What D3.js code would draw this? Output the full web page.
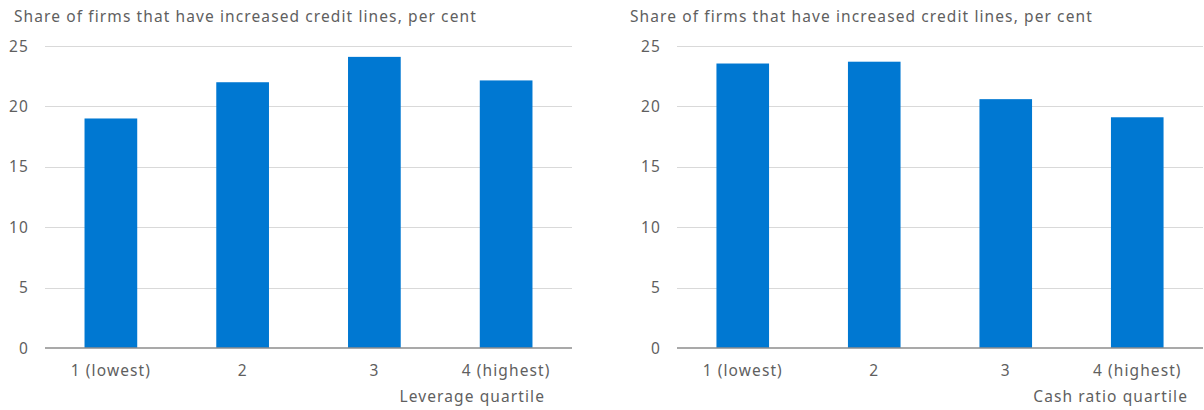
<!DOCTYPE html>
<html><head><meta charset="utf-8">
<script src="https://cdn.jsdelivr.net/npm/d3@7"></script>
<style>
html,body{margin:0;padding:0;background:#fff;}
svg text{font-family:"Noto Sans",sans-serif;fill:#5f5f5f;letter-spacing:1.1px;}
</style></head>
<body>
<svg id="chart" width="1204" height="410"></svg>
<script>
const categories = ["1 (lowest)", "2", "3", "4 (highest)"];
const leverageValues = [19.0, 22.0, 24.1, 22.15];
const cashRatioValues = [23.55, 23.7, 20.6, 19.1];
const yTicks = [0, 5, 10, 15, 20, 25];
const titles = ["Share of firms that have increased credit lines, per cent", "Share of firms that have increased credit lines, per cent"];
const axisTitles = ["Leverage quartile", "Cash ratio quartile"];

const svg = d3.select("#chart");
const panels = [
  {values: leverageValues, x0: 45, x1: 572, titleX: 14, labelRight: 29, axisTitleRight: 545, title: titles[0], axisTitle: axisTitles[0]},
  {values: cashRatioValues, x0: 677, x1: 1203, titleX: 630, labelRight: 661, axisTitleRight: 1188, title: titles[1], axisTitle: axisTitles[1]}
];
const y = d3.scaleLinear().domain([0, 25]).range([348, 46]);

panels.forEach(p => {
  const g = svg.append("g");
  const x = d3.scaleBand().domain(categories).range([p.x0, p.x1]).padding(0);
  const bw = x.bandwidth() * 0.4;

  g.append("text").attr("x", p.titleX).attr("y", 22).attr("font-size", 15.5).text(p.title);

  g.selectAll(".grid").data(yTicks.filter(d => d > 0)).enter().append("line")
    .attr("x1", p.x0).attr("x2", p.x1)
    .attr("y1", d => Math.round(y(d)) + 0.5).attr("y2", d => Math.round(y(d)) + 0.5)
    .attr("stroke", "#d9d9d9").attr("stroke-width", 1);

  g.selectAll(".ylab").data(yTicks).enter().append("text")
    .attr("x", p.labelRight).attr("y", d => y(d) + 5.5)
    .attr("text-anchor", "end").attr("font-size", 15.5).text(d => d);

  g.selectAll(".bar").data(p.values).enter().append("rect")
    .attr("x", (d, i) => x(categories[i]) + (x.bandwidth() - bw) / 2)
    .attr("width", bw)
    .attr("y", d => y(d)).attr("height", d => y(0) - y(d))
    .attr("fill", "#0078d2");

  g.append("line").attr("x1", p.x0).attr("x2", p.x1)
    .attr("y1", y(0)).attr("y2", y(0))
    .attr("stroke", "#8c8c8c").attr("stroke-width", 1.5);

  g.selectAll(".xlab").data(categories).enter().append("text")
    .attr("x", d => x(d) + x.bandwidth() / 2).attr("y", 376)
    .attr("text-anchor", "middle").attr("font-size", 15.5).text(d => d);

  g.append("text").attr("x", p.axisTitleRight).attr("y", 402)
    .attr("text-anchor", "end").attr("font-size", 15.5).text(p.axisTitle);
});
</script>
</body></html>
